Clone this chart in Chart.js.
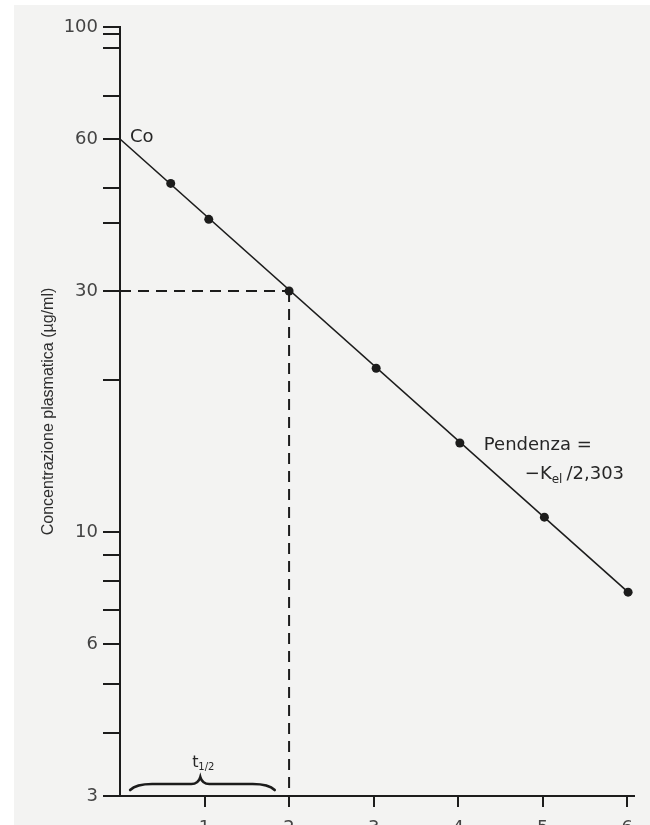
<!DOCTYPE html>
<html>
<head>
<meta charset="utf-8">
<title>Concentrazione plasmatica</title>
<script src="https://cdn.jsdelivr.net/npm/chart.js@4/dist/chart.umd.min.js"></script>
<style>
  html, body { margin: 0; padding: 0; background: #ffffff; }
  #frame { position: relative; width: 650px; height: 825px; overflow: hidden; }
  #paper { position: absolute; left: 14px; top: 5px; right: 0; bottom: 0; background: #f3f3f2; }
  #chart { position: absolute; left: 0; top: 0; }
</style>
</head>
<body>
<div id="frame">
  <div id="paper"></div>
  <canvas id="chart" width="650" height="860"></canvas>
</div>
<script>
const timeX = [0.6, 1.05, 2, 3.03, 4.02, 5.02, 6.01];
const concY = [49, 41.6, 30, 21.1, 15, 10.7, 7.6];

// retta di eliminazione: da Co fino all'ultimo punto
const fitX = [0, 6.01];
const fitY = [60, 7.6];

// emivita: 60 -> 30 in 2 unità di tempo
const halfLifeX = [0, 2];
const halfLifeC = 30;
const yMin = 3;

const xTicks = [1, 2, 3, 4, 5, 6];
const yTicks = [3, 4, 5, 6, 7, 8, 9, 10, 20, 30, 41, 48, 60, 73, 91, 97, 100];
const yLabels = [3, 6, 10, 30, 60, 100];

const ink = '#1c1c1c';
const labelColor = '#444444';

const toPoints = (xs, ys) => xs.map((x, i) => ({ x: x, y: ys[i] }));

// testi e parentesi graffa del t1/2
const notes = {
    id: 'notes',
    afterDatasetsDraw(chart) {
        const { ctx, scales } = chart;
        const xs = scales.x, ys = scales.y;
        ctx.save();
        ctx.fillStyle = '#262626';
        ctx.textBaseline = 'alphabetic';
        ctx.textAlign = 'left';

        // Co
        ctx.font = '18px "DejaVu Sans"';
        ctx.fillText('Co', xs.getPixelForValue(fitX[0]) + 10, ys.getPixelForValue(fitY[0]) + 3);

        // Pendenza = -Kel/2,303
        const px = xs.getPixelForValue(timeX[4]);
        const py = ys.getPixelForValue(concY[4]);
        ctx.font = '18px "DejaVu Sans"';
        ctx.fillText('Pendenza =', px + 24, py + 7);
        let x = px + 65;
        const by = py + 36;
        ctx.fillText('\u2212K', x, by);
        x += ctx.measureText('\u2212K').width;
        ctx.font = '12px "DejaVu Sans"';
        ctx.fillText('el', x, by + 4);
        x += ctx.measureText('el').width + 4;
        ctx.font = '18px "DejaVu Sans"';
        ctx.fillText('/2,303', x, by);

        // parentesi graffa sopra l'asse x, da 0 a t1/2
        const x0 = xs.getPixelForValue(0.12);
        const x1 = xs.getPixelForValue(1.83);
        const xm = xs.getPixelForValue(0.95);
        const base = ys.getPixelForValue(yMin);
        const yEnd = base - 6, yLine = base - 12, yTip = base - 19;
        ctx.strokeStyle = ink;
        ctx.lineWidth = 2.6;
        ctx.lineCap = 'round';
        ctx.beginPath();
        ctx.moveTo(x0, yEnd);
        ctx.quadraticCurveTo(x0 + 6, yLine, x0 + 22, yLine);
        ctx.lineTo(xm - 9, yLine);
        ctx.quadraticCurveTo(xm - 2, yLine, xm, yTip);
        ctx.quadraticCurveTo(xm + 2, yLine, xm + 9, yLine);
        ctx.lineTo(x1 - 22, yLine);
        ctx.quadraticCurveTo(x1 - 6, yLine, x1, yEnd);
        ctx.stroke();

        ctx.font = '16px "DejaVu Sans"';
        ctx.fillText('t', xm - 8, yTip - 10);
        ctx.font = '10px "DejaVu Sans"';
        ctx.fillText('1/2', xm - 2, yTip - 7);
        ctx.restore();
    }
};

new Chart(document.getElementById('chart'), {
    type: 'scatter',
    data: {
        datasets: [
            {
                data: toPoints(fitX, fitY),
                showLine: true,
                borderColor: ink,
                borderWidth: 1.6,
                pointRadius: 0
            },
            {
                data: toPoints(halfLifeX, [halfLifeC, halfLifeC]),
                showLine: true,
                borderColor: ink,
                borderWidth: 2,
                borderDash: [11, 7],
                pointRadius: 0
            },
            {
                data: toPoints([halfLifeX[1], halfLifeX[1]], [halfLifeC, yMin]),
                showLine: true,
                borderColor: ink,
                borderWidth: 2,
                borderDash: [11, 7],
                pointRadius: 0
            },
            {
                data: toPoints(timeX, concY),
                showLine: false,
                pointRadius: 4.5,
                pointBackgroundColor: ink,
                pointBorderColor: ink,
                pointBorderWidth: 0
            }
        ]
    },
    options: {
        responsive: false,
        animation: false,
        devicePixelRatio: 1,
        clip: false,
        layout: { padding: { left: 0, top: 27, right: 16, bottom: 14 } },
        plugins: {
            legend: { display: false },
            tooltip: { enabled: false }
        },
        scales: {
            x: {
                type: 'linear',
                min: 0,
                max: 6.08,
                afterBuildTicks: (scale) => { scale.ticks = xTicks.map(v => ({ value: v })); },
                afterFit: (scale) => { scale.height = 50; },
                border: { display: true, color: ink, width: 2 },
                grid: { drawOnChartArea: false, drawTicks: true, tickLength: 11, tickColor: ink, lineWidth: 2 },
                ticks: {
                    autoSkip: false,
                    maxRotation: 0,
                    padding: 11,
                    color: labelColor,
                    font: { family: 'DejaVu Sans', size: 18 },
                    callback: (v) => String(v)
                }
            },
            y: {
                type: 'logarithmic',
                min: yMin,
                max: 100,
                afterBuildTicks: (scale) => { scale.ticks = yTicks.map(v => ({ value: v })); },
                afterFit: (scale) => { scale.width = 120; },
                border: { display: true, color: ink, width: 2 },
                grid: { drawOnChartArea: false, drawTicks: true, tickLength: 17, tickColor: ink, lineWidth: 2 },
                ticks: {
                    autoSkip: false,
                    padding: 5,
                    color: labelColor,
                    font: { family: 'DejaVu Sans', size: 18 },
                    callback: (v) => yLabels.includes(v) ? String(v) : ''
                },
                title: {
                    display: true,
                    text: 'Concentrazione plasmatica (\u00b5g/ml)',
                    color: '#2e2e2e',
                    font: { family: 'Liberation Sans', size: 16 },
                    padding: { top: 39, bottom: 0 }
                }
            }
        }
    },
    plugins: [notes]
});
</script>
</body>
</html>
